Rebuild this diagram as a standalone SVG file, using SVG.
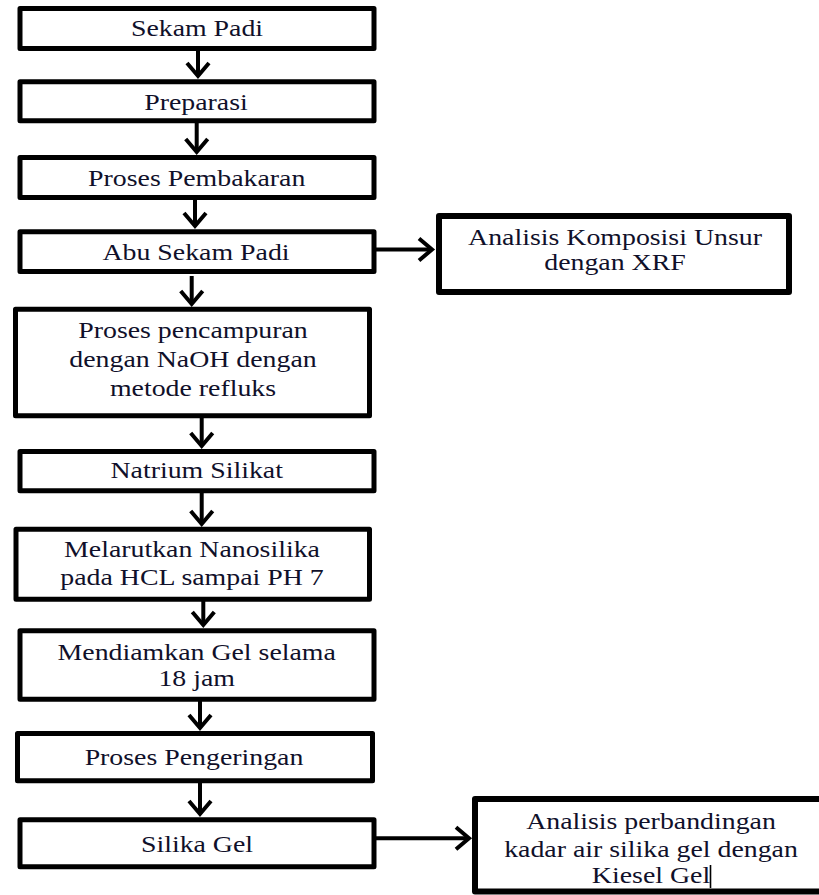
<svg xmlns="http://www.w3.org/2000/svg" width="819" height="895" viewBox="0 0 819 895">
<defs>
<style>
.box{fill:#fff;stroke:#000;stroke-width:5;stroke-linejoin:round}
.t{font-family:'Liberation Serif','DejaVu Serif',serif;font-size:24px;fill:#10102a;text-anchor:middle}
.c{stroke:#000;stroke-width:4;fill:none;marker-end:url(#ah)}
</style>
<marker id="ah" markerUnits="userSpaceOnUse" markerWidth="30" markerHeight="30" viewBox="-20 -15 30 30" refX="0" refY="0" orient="auto">
<path d="M-13,-11 L0,0 L-13,11" fill="none" stroke="#000" stroke-width="4"/>
</marker>
</defs>
<rect width="819" height="895" fill="#fff"/>
<g id="connectors">
<line class="c" x1="198" y1="50" x2="198" y2="76"/>
<line class="c" x1="196.7" y1="123" x2="196.7" y2="152"/>
<line class="c" x1="195" y1="200" x2="195" y2="226"/>
<line class="c" x1="191.7" y1="276" x2="191.7" y2="304"/>
<line class="c" x1="201.7" y1="418" x2="201.7" y2="446"/>
<line class="c" x1="201.7" y1="493" x2="201.7" y2="524"/>
<line class="c" x1="203.3" y1="601" x2="203.3" y2="625"/>
<line class="c" x1="200" y1="701" x2="200" y2="728"/>
<line class="c" x1="200" y1="783" x2="200" y2="814"/>
<line class="c" x1="376" y1="249.5" x2="432" y2="249.5"/>
<line class="c" x1="376" y1="838.3" x2="469" y2="838.3"/>
</g>
<g id="n1"><rect class="box" x="20" y="8.5" width="354" height="40"/><text class="t" font-family="Liberation Serif" transform="translate(197,36) scale(1.16,1)">Sekam Padi</text></g>
<g id="n2"><rect class="box" x="20" y="81.8" width="354" height="39"/><text class="t" font-family="Liberation Serif" transform="translate(196,110) scale(1.16,1)">Preparasi</text></g>
<g id="n3"><rect class="box" x="20" y="157.5" width="354" height="40"/><text class="t" font-family="Liberation Serif" transform="translate(196.7,186) scale(1.16,1)">Proses Pembakaran</text></g>
<g id="n4"><rect class="box" x="20" y="231.8" width="354" height="39.7"/><text class="t" font-family="Liberation Serif" transform="translate(196,260) scale(1.16,1)">Abu Sekam Padi</text></g>
<g id="n5"><rect class="box" x="15.5" y="309.2" width="354" height="106.6"/>
<text class="t" font-family="Liberation Serif" transform="translate(193,338) scale(1.16,1)">Proses pencampuran</text>
<text class="t" font-family="Liberation Serif" transform="translate(193,367) scale(1.16,1)">dengan NaOH dengan</text>
<text class="t" font-family="Liberation Serif" transform="translate(193,396) scale(1.16,1)">metode refluks</text></g>
<g id="n6"><rect class="box" x="20" y="451.5" width="354" height="39.3"/><text class="t" font-family="Liberation Serif" transform="translate(196.7,478) scale(1.16,1)">Natrium Silikat</text></g>
<g id="n7"><rect class="box" x="16" y="529.2" width="353.5" height="70"/>
<text class="t" font-family="Liberation Serif" transform="translate(192,557) scale(1.16,1)">Melarutkan Nanosilika</text>
<text class="t" font-family="Liberation Serif" transform="translate(192,585) scale(1.16,1)">pada HCL sampai PH 7</text></g>
<g id="n8"><rect class="box" x="20" y="630.8" width="354" height="68.4"/>
<text class="t" font-family="Liberation Serif" transform="translate(196.7,660) scale(1.16,1)">Mendiamkan Gel selama</text>
<text class="t" font-family="Liberation Serif" transform="translate(196.7,686) scale(1.16,1)">18 jam</text></g>
<g id="n9"><rect class="box" x="17.5" y="733.5" width="355" height="47.3"/><text class="t" font-family="Liberation Serif" transform="translate(194,765) scale(1.16,1)">Proses Pengeringan</text></g>
<g id="n10"><rect class="box" x="20" y="819.8" width="354" height="47"/><text class="t" font-family="Liberation Serif" transform="translate(197,851.5) scale(1.16,1)">Silika Gel</text></g>
<g id="n11"><rect class="box" x="439" y="216" width="350" height="76" style="stroke-width:6"/>
<text class="t" font-family="Liberation Serif" transform="translate(615,245) scale(1.16,1)">Analisis Komposisi Unsur</text>
<text class="t" font-family="Liberation Serif" transform="translate(615,270) scale(1.16,1)">dengan XRF</text></g>
<g id="n12"><rect class="box" x="475" y="799" width="360" height="92.5" style="stroke-width:6"/>
<text class="t" font-family="Liberation Serif" transform="translate(651,829) scale(1.16,1)">Analisis perbandingan</text>
<text class="t" font-family="Liberation Serif" transform="translate(651,857) scale(1.16,1)">kadar air silika gel dengan</text>
<text class="t" font-family="Liberation Serif" transform="translate(651,883) scale(1.16,1)">Kiesel Gel</text>
<line x1="710.5" y1="865" x2="710.5" y2="888" stroke="#000" stroke-width="1.6"/></g>
</svg>
